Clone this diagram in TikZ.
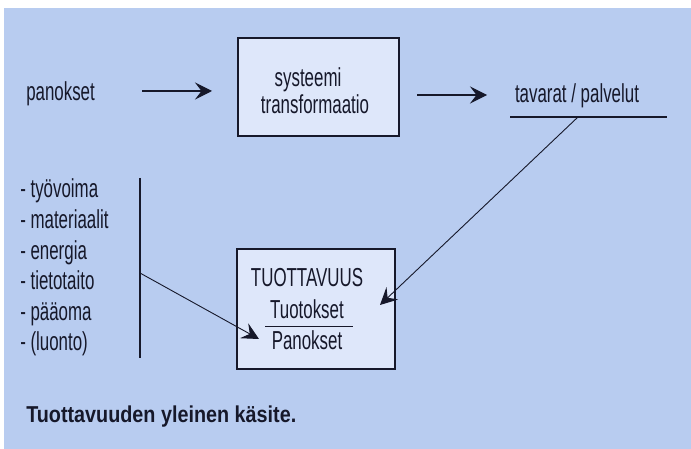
\documentclass[tikz,border=0pt]{standalone}
\usepackage{fontspec}
\setmainfont{Liberation Sans}[FakeStretch=0.65]
\newfontfamily\capfont{Liberation Sans}[FakeStretch=0.86]
\usetikzlibrary{arrows.meta}

\definecolor{bgblue}{RGB}{184,204,240}
\definecolor{boxfill}{RGB}{222,231,250}
\definecolor{ink}{RGB}{22,24,42}

\tikzset{every picture/.style={line width=1pt}}
\tikzset{
  txt/.style={inner sep=0.75pt, text=ink, font=\fontsize{26}{28}\selectfont},
  sysbox/.style={draw=ink, line width=2pt, fill=boxfill},
  arr/.style={draw=ink, line width=1.1pt, -{Stealth[length=17pt,width=17pt,inset=6.5pt]}},
  thinarr/.style={draw=ink, line width=0.9pt, -{Stealth[length=17pt,width=17pt,inset=6.5pt]}}
}

\begin{document}
\begin{tikzpicture}[x=1pt,y=1pt,yscale=-1]
%background, white strip at top and left
\fill [white] (0,0) rectangle (691,449);
\fill [bgblue] (4,8) rectangle (691,449);
\useasboundingbox (0,0) rectangle (691,449);

%Shape: Rectangle [id:sys]
\node (sys) [sysbox, minimum width=161pt, minimum height=98pt, inner sep=0pt] at (318.5,87) {};
%Shape: Rectangle [id:prod]
\node (prod) [sysbox, minimum width=158pt, minimum height=120pt, inner sep=0pt] at (316,309) {};

% Text Node
\node (pan) [txt, anchor=base west] at (25,101) {panokset};
% Text Node
\node (sys1) [txt, anchor=base] at (308,87) {systeemi};
% Text Node
\node (sys2) [txt, anchor=base] at (315,114) {transformaatio};
% Text Node
\node (tav) [txt, anchor=base] at (577,103) {tavarat / palvelut};
% Text Node
\node (tuo) [txt, anchor=base] at (307,287) {TUOTTAVUUS};
% Text Node
\node (tout) [txt, anchor=base] at (307,318) {Tuotokset};
% Text Node
\node (pano) [txt, anchor=base] at (307,349) {Panokset};

% Text Node
\node (l1) [txt, anchor=base west] at (19,198) {- työvoima};
% Text Node
\node (l2) [txt, anchor=base west] at (19,228.5) {- materiaalit};
% Text Node
\node (l3) [txt, anchor=base west] at (19,259) {- energia};
% Text Node
\node (l4) [txt, anchor=base west] at (19,289.5) {- tietotaito};
% Text Node
\node (l5) [txt, anchor=base west] at (19,320) {- pääoma};
% Text Node
\node (l6) [txt, anchor=base west] at (19,350) {- (luonto)};

% Text Node
\node (cap) [inner sep=0.75pt, text=ink, anchor=base west, font=\capfont\bfseries\fontsize{23}{25}\selectfont] at (25,422) {Tuottavuuden yleinen käsite.};

%Straight Lines [id:underline]
\draw [draw=ink, line width=2.2pt] (510,117) -- (667,117);
\coordinate (ul) at (578,117);
%Straight Lines [id:bar]
\draw [draw=ink, line width=2pt] (140,178) -- (140,358);
\coordinate (bar) at (140,273);
%Straight Lines [id:fracline]
\draw [draw=ink, line width=0.9pt] (265,326) -- (353,326);

%arrow ends
\coordinate (a1s) at (142,91);
\coordinate (a1e) at (212,91);
\coordinate (a2s) at (417,95);
\coordinate (a2e) at (487,95);
\coordinate (t1) at (380,305);
\coordinate (t2) at (259,339);

%Straight Lines [id:in]
\draw [arr] (a1s) -- (a1e);
%Straight Lines [id:out]
\draw [arr] (a2s) -- (a2e);
%Straight Lines [id:back]
\draw [thinarr] (ul) -- (t1);
%Straight Lines [id:res]
\draw [thinarr] (bar) -- (t2);

\end{tikzpicture}
\end{document}
